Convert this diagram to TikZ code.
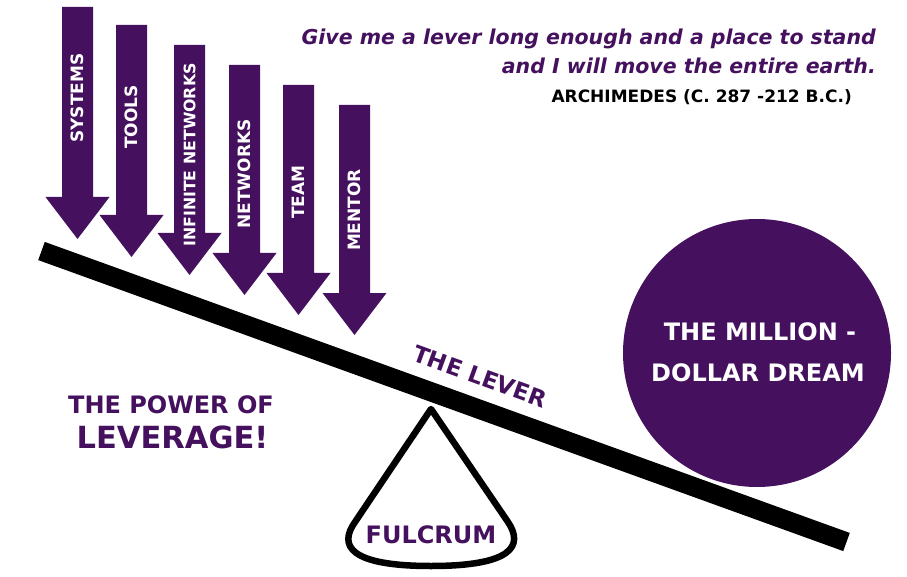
\documentclass[tikz,border=0pt]{standalone}
\usepackage{fontspec}
\setmainfont{DejaVu Sans}
\definecolor{lvpurple}{HTML}{45115E}
\tikzset{
  lever/.style={line width=19.3pt, black},
  fulcrumshape/.style={line width=6.5pt, black, line join=round},
  purplearrow/.style={fill=lvpurple, draw=none},
  alabel/.style={text=white, font=\bfseries\fontsize{17}{20}\selectfont, inner sep=0pt, rotate=90},
  ptext/.style={text=lvpurple, inner sep=0pt},
  quote/.style={text=lvpurple, inner sep=0pt, anchor=base east, font=\bfseries\itshape\fontsize{20.5}{24}\selectfont},
}
\newcommand\levarrow[3]{%
  \fill[purplearrow] (#1,#2) -- ({#1+31},#2) -- ({#1+31},#3) -- ({#1+47.5},#3)
    -- ({#1+15.5},{#3+42}) -- ({#1-16.5},#3) -- (#1,#3) -- cycle;}
\begin{document}
\begin{tikzpicture}[x=1pt,y=-1pt]
\useasboundingbox (0,0) rectangle (907,577);
% arrows
\levarrow{62}{7}{197}
\levarrow{116}{25}{215}
\levarrow{174}{45}{233}
\levarrow{229}{65}{253}
\levarrow{283}{85}{273}
\levarrow{339}{105}{293}
\node[alabel] (systems) at (77.5,98) {SYSTEMS};
\node[alabel] (tools) at (131.5,117) {TOOLS};
\node[alabel, font=\bfseries\fontsize{15.8}{19}\selectfont] (infnet) at (189.5,155) {INFINITE NETWORKS};
\node[alabel] (networks) at (244.5,174) {NETWORKS};
\node[alabel] (team) at (298.5,192) {TEAM};
\node[alabel] (mentor) at (354.5,210) {MENTOR};
% lever
\coordinate (levL) at (41.5,251);
\coordinate (levR) at (846.5,542);
\draw[lever] (levL) -- (levR);
% fulcrum
\coordinate (apex) at (431,409);
\draw[fulcrumshape] (apex) -- (355,522) .. controls (338,546) and (350,566) .. (431,566)
  .. controls (512,566) and (524,546) .. (508,522) -- cycle;
\node[ptext, anchor=base, font=\bfseries\fontsize{24}{28}\selectfont] (fulcrum) at (431,543) {FULCRUM};
% lever label
\node[ptext, rotate=-20, font=\bfseries\fontsize{23}{27}\selectfont] (thelever) at (480,376.5) {THE LEVER};
% dream circle
\node[circle, fill=lvpurple, minimum size=268pt, inner sep=0pt] (dream) at (757,353) {};
\node[text=white, inner sep=0pt, anchor=base, font=\bfseries\fontsize{24}{28}\selectfont] (dream1) at (760,340) {THE MILLION -};
\node[text=white, inner sep=0pt, anchor=base, font=\bfseries\fontsize{24}{28}\selectfont] (dream2) at (758,381) {DOLLAR DREAM};
% power of leverage
\node[ptext, anchor=base, font=\bfseries\fontsize{24}{28}\selectfont] (power1) at (171,413) {THE POWER OF};
\node[ptext, anchor=base, font=\bfseries\fontsize{30.5}{34}\selectfont] (power2) at (172.5,448) {LEVERAGE!};
% quote
\node[quote] (q1) at (876,45) {Give me a lever long enough and a place to stand};
\node[quote] (q2) at (876,73.3) {and I will move the entire earth.};
\node[inner sep=0pt, anchor=base east, font=\bfseries\fontsize{17}{20}\selectfont] (arch) at (852,103) {ARCHIMEDES (C. 287 -212 B.C.)};
\end{tikzpicture}
\end{document}
